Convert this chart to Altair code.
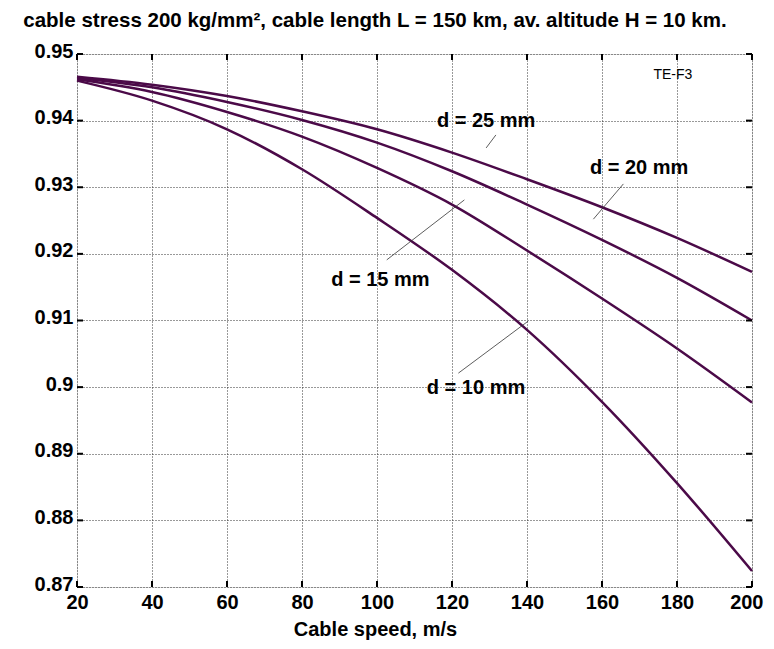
import altair as alt
import pandas as pd

# ---- data ----
speed = [20, 40, 60, 80, 100, 120, 140, 160, 180, 200]
eff_d25 = [0.9466, 0.9454, 0.9437, 0.9414, 0.9387, 0.9352, 0.9312, 0.9270, 0.9224, 0.9173]
eff_d20 = [0.9464, 0.9450, 0.9428, 0.9401, 0.9367, 0.9324, 0.9274, 0.9221, 0.9164, 0.9100]
eff_d15 = [0.9462, 0.9443, 0.9413, 0.9376, 0.9329, 0.9274, 0.9205, 0.9133, 0.9058, 0.8977]
eff_d10 = [0.9460, 0.9430, 0.9387, 0.9327, 0.9254, 0.9176, 0.9086, 0.8978, 0.8856, 0.8724]
diameters = ["25", "20", "15", "10"]

x_ticks = [20, 40, 60, 80, 100, 120, 140, 160, 180, 200]
y_ticks = [0.87, 0.88, 0.89, 0.90, 0.91, 0.92, 0.93, 0.94, 0.95]

label_text = ["d = 25 mm", "d = 20 mm", "d = 15 mm", "d = 10 mm"]
label_speed = [129.1, 169.9, 100.9, 126.4]
label_eff = [0.93995, 0.93283, 0.91603, 0.89983]

leader_speed = [131.7, 165.7, 123.3, 121.7]
leader_eff = [0.93785, 0.93050, 0.92810, 0.90210]
leader_speed2 = [129.1, 157.7, 102.6, 140.3]
leader_eff2 = [0.93590, 0.92521, 0.91910, 0.90990]

tag_text = ["TE-F3"]
tag_speed = [178.9]
tag_eff = [0.94685]

title_text = ["cable stress 200 kg/mm\u00b2, cable length L = 150 km, av. altitude H = 10 km."]

# ---- tables ----
rows = []
for d, series in zip(diameters, [eff_d25, eff_d20, eff_d15, eff_d10]):
    for s, e in zip(speed, series):
        rows.append({"speed": s, "eff": e, "d": d})
df = pd.DataFrame(rows)
labels_df = pd.DataFrame({"speed": label_speed, "eff": label_eff, "label": label_text})
leader_df = pd.DataFrame({"speed": leader_speed, "eff": leader_eff,
                          "speed2": leader_speed2, "eff2": leader_eff2})
tag_df = pd.DataFrame({"speed": tag_speed, "eff": tag_eff, "label": tag_text})
title_df = pd.DataFrame({"t": title_text})
xt_df = pd.DataFrame({"speed": x_ticks})
yt_df = pd.DataFrame({"eff": y_ticks})

W, H = 675, 533
FONT = "Liberation Sans"
LINE_COLOR = "#4b0a48"

xscale = alt.Scale(domain=[20, 200], nice=False, zero=False)
yscale = alt.Scale(domain=[0.87, 0.95], nice=False, zero=False)

xaxis = alt.Axis(values=x_ticks, format="d", title="Cable speed, m/s",
                 labelFont=FONT, labelFontWeight="bold", labelFontSize=20, labelColor="black",
                 labelFlush=True, labelFlushOffset=11, labelPadding=5, ticks=False, tickSize=0,
                 domain=False,
                 grid=True, gridDash=[1, 2], gridColor="#333", gridWidth=1, gridOpacity=1,
                 titleFont=FONT, titleFontWeight="bold", titleFontSize=20, titleColor="black",
                 titleBaseline="alphabetic", titleY=48, titleX=298, titleAlign="center")
yaxis = alt.Axis(values=y_ticks, labelExpr="format(datum.value, '.2~f')", title=None,
                 labelFont=FONT, labelFontWeight="bold", labelFontSize=20, labelColor="black",
                 labelFlush=False, labelPadding=4, labelOffset=-3, ticks=False, tickSize=0,
                 domain=False,
                 grid=True, gridDash=[1, 2], gridColor="#333", gridWidth=1, gridOpacity=1)

X = alt.X("speed:Q", scale=xscale, axis=xaxis)
Y = alt.Y("eff:Q", scale=yscale, axis=yaxis)

lines = alt.Chart(df).mark_line(color=LINE_COLOR, strokeWidth=2.5, interpolate="monotone").encode(
    x=X, y=Y, detail="d:N")

leaders = alt.Chart(leader_df).mark_rule(color="#333", strokeWidth=0.8).encode(
    x=X, y=Y, x2="speed2:Q", y2="eff2:Q")

labels = alt.Chart(labels_df).mark_text(font=FONT, fontWeight="bold", fontSize=20,
                                        color="black", align="center", baseline="middle").encode(
    x=X, y=Y, text="label:N")

tag = alt.Chart(tag_df).mark_text(font=FONT, fontSize=14, color="black",
                                  align="center", baseline="middle").encode(
    x=X, y=Y, text="label:N")

title = alt.Chart(title_df).mark_text(font=FONT, fontWeight="bold", fontSize=20.5, color="black",
                                      align="center", baseline="alphabetic").encode(
    x=alt.value(298), y=alt.value(-27), text="t:N")

TL = 6
tick_left = alt.Chart(yt_df).mark_rule(color="black", strokeWidth=2).encode(
    y=Y, x=alt.value(0), x2=alt.value(TL))
tick_right = alt.Chart(yt_df).mark_rule(color="black", strokeWidth=2).encode(
    y=Y, x=alt.value(W - TL), x2=alt.value(W))
tick_bottom = alt.Chart(xt_df).mark_rule(color="black", strokeWidth=2).encode(
    x=X, y=alt.value(H), y2=alt.value(H - TL))
tick_top = alt.Chart(xt_df).mark_rule(color="black", strokeWidth=2).encode(
    x=X, y=alt.value(0), y2=alt.value(TL))

chart = alt.layer(lines, leaders, labels, tag, title,
                  tick_left, tick_right, tick_bottom, tick_top).properties(
    width=W, height=H,
    autosize=alt.AutoSizeParams(type="none"),
    padding={"left": 69, "top": 46, "right": 14, "bottom": 54},
).configure_view(stroke="black", strokeWidth=2.5).configure(background="white")

chart.save("out.html", embed_options={"renderer": "svg", "actions": False})
